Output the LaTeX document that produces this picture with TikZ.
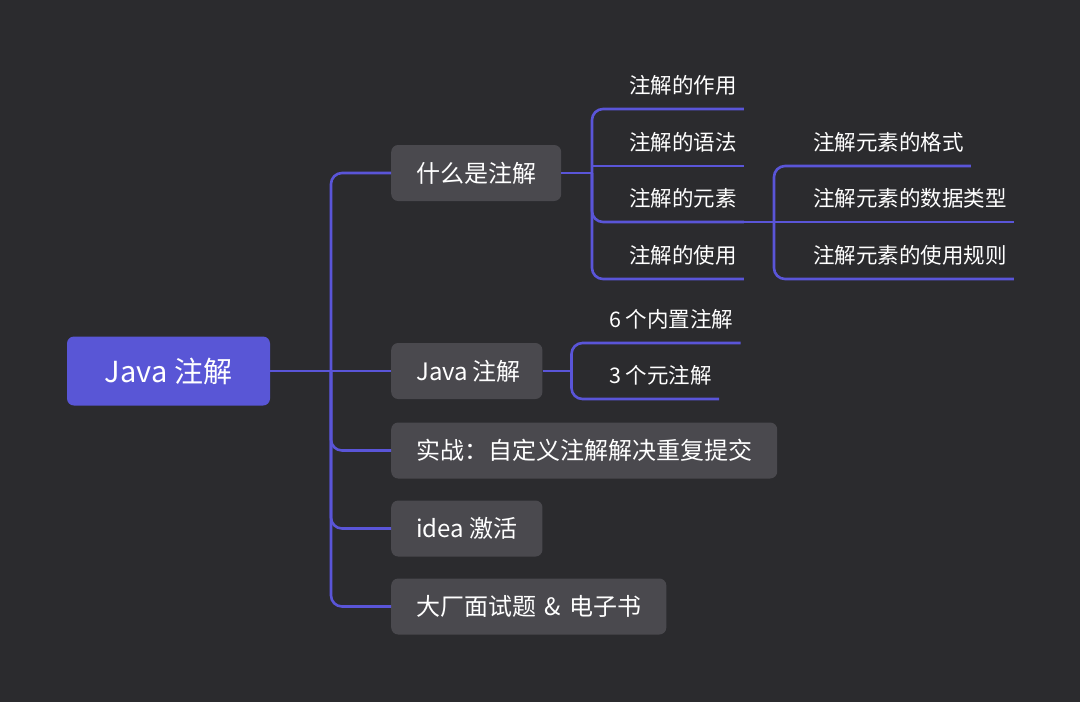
\documentclass[tikz,border=0pt]{standalone}
\usepackage{fontspec}
\setmainfont{Noto Sans CJK SC}
\definecolor{bgc}{RGB}{43,43,46}
\definecolor{topicc}{RGB}{74,73,78}
\definecolor{rootc}{RGB}{89,86,214}
\definecolor{linec}{RGB}{90,85,216}
\tikzset{
  rootnode/.style={fill=rootc, rounded corners=7pt, text=white,
    font=\fontsize{29}{34}\selectfont, minimum width=203pt, minimum height=69pt,
    inner sep=0pt, text height=22pt, text depth=0pt},
  topic/.style={fill=topicc, rounded corners=7pt, text=white,
    font=\fontsize{24}{28}\selectfont, minimum height=56pt, inner xsep=25pt,
    inner ysep=0pt, text height=18pt, text depth=0pt, anchor=west},
  sub/.style={text=white, font=\fontsize{21.5}{26}\selectfont, inner xsep=7pt,
    inner ysep=0pt, text height=20pt, text depth=15pt, anchor=south west},
  branch/.style={draw=linec, line width=2.6pt, rounded corners=11pt}
}
\begin{document}
\begin{tikzpicture}[x=1pt, y=-1pt]
\useasboundingbox[fill=bgc] (0,0) rectangle (1080,702);

% root and main topics
\node[rootnode] (root) at (168.5,371) {Java 注解};
\node[topic] (t1) at (391,173) {什么是注解};
\node[topic, inner xsep=22pt] (t2) at (391,371) {\hspace{3pt}Java\hspace{0.18em}注解};
\node[topic] (t3) at (391,450.5) {实战：自定义注解解决重复提交};
\node[topic] (t4) at (391,528.5) {idea 激活};
\node[topic] (t5) at (391,606.5) {大厂面试题\hspace{0.35em}\&\hspace{0.35em}电子书};

% subtopics of t1
\node[sub] (s1) at (622,109) {注解的作用};
\node[sub] (s2) at (622,166) {注解的语法};
\node[sub] (s3) at (622,222) {注解的元素};
\node[sub] (s4) at (622,279) {注解的使用};

% subtopics of s3
\node[sub] (u1) at (806,166) {注解元素的格式};
\node[sub] (u2) at (806,222) {注解元素的数据类型};
\node[sub] (u3) at (806,279) {注解元素的使用规则};

% subtopics of t2
\node[sub] (v1) at (602,343) {6 个内置注解};
\node[sub] (v2) at (602,399) {3 个元注解};

% junctions
\coordinate (j0) at (331,371);
\coordinate (j1) at (592,173);
\coordinate (j2) at (774,222);
\coordinate (j3) at (571.5,371);

% trunk
\draw[branch] (root.east) -- (t2.west);
\draw[branch] (j0) |- (t1.west);
\draw[branch] (j0) |- (t3.west);
\draw[branch] (j0) |- (t4.west);
\draw[branch] (j0) |- (t5.west);

% t1 branches
\draw[branch] (t1.east) -- (j1);
\draw[branch] (j1) |- (s1.south east);
\draw[branch, sharp corners] (j1) |- (s2.south east);
\draw[branch] (j1) |- (s3.south east);
\draw[branch] (j1) |- (s4.south east);

% s3 branches
\draw[branch] (s3.south east) -- (j2);
\draw[branch] (j2) |- (u1.south east);
\draw[branch] (j2) -- (u2.south east);
\draw[branch] (j2) |- (u3.south east);

% t2 branches
\draw[branch] (t2.east) -- (j3);
\draw[branch] (j3) |- (v1.south east);
\draw[branch] (j3) |- (v2.south east);
\end{tikzpicture}
\end{document}
